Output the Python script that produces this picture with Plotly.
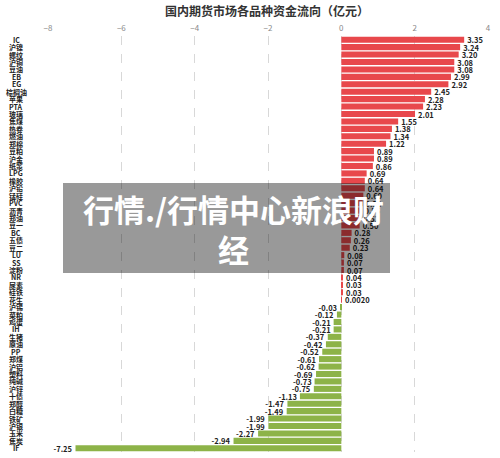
import plotly.graph_objects as go

categories = ["IC","沪镍","螺纹","沪铜","豆油","EB","EG","棕榈油","苹果","PTA",
              "玻璃","焦煤","热卷","燃油","郑棉","豆粕","沪金","纸浆","LPG","橡胶",
              "沪铅","锰硅","PVC","沥青","郑油","豆一","BC","五债","豆二","LU",
              "SS","淀粉","NR","尿素","硅铁","花生","沪锡","菜粕","鸡蛋","IH",
              "生猪","原油","PP","郑煤","沪铝","塑料","纯碱","沪锌","十债","郑醇",
              "白糖","铁矿","沪银","玉米","焦炭","IF"]
values = [3.35,3.24,3.20,3.08,3.08,2.99,2.92,2.45,2.28,2.23,
          2.01,1.55,1.38,1.34,1.22,0.89,0.89,0.86,0.69,0.64,
          0.64,0.60,0.58,0.55,0.52,0.50,0.28,0.26,0.23,0.08,
          0.07,0.07,0.04,0.03,0.03,0.0020,-0.03,-0.12,-0.21,-0.21,
          -0.37,-0.42,-0.52,-0.61,-0.62,-0.69,-0.73,-0.75,-1.13,-1.47,
          -1.49,-1.99,-1.99,-2.27,-2.94,-7.25]
x_ticks = [-8, -6, -4, -2, 0, 2, 4]
title = "国内期货市场各品种资金流向（亿元）"
watermark = "行情./行情中心新浪财<br>经"

RED = "rgb(232,72,76)"
GREEN = "rgb(141,179,72)"
FONT = "Noto Sans CJK SC"

labels = [("%.4f" % v) if abs(v) < 0.01 else ("%.2f" % v) for v in values]
colors = [RED if v >= 0 else GREEN for v in values]

fig = go.Figure(go.Bar(
    y=categories, x=values, orientation="h",
    marker=dict(color=colors, line=dict(width=0)),
    text=labels, textposition="outside", constraintext="none",
    textfont=dict(size=7.5, color="#222", family=FONT, weight="bold"),
    cliponaxis=False,
))

fig.update_layout(
    width=500, height=458,
    margin=dict(l=48, r=12, t=36, b=6),
    paper_bgcolor="white", plot_bgcolor="white",
    bargap=0.18,
    showlegend=False,
    title=dict(text=title, x=0.534, xanchor="center", y=0.975, yanchor="middle",
               font=dict(size=12, color="#333", family=FONT, weight="bold")),
    xaxis=dict(side="top", range=[-8, 4], tickvals=x_ticks,
               tickfont=dict(size=8, color="#888", family=FONT),
               showgrid=True, gridcolor="#d8d8d8", griddash="dash", gridwidth=1,
               zeroline=False, showline=False, ticks="", ticklabelstandoff=2),
    yaxis=dict(categoryorder="array", categoryarray=categories[::-1],
               showticklabels=False, showgrid=False, zeroline=False, showline=False,
               range=[-0.5, len(categories) - 0.5]),
    font=dict(family=FONT),
)

for c in categories:
    fig.add_annotation(x=-32/440, xref="paper", y=c, yref="y", text=c, showarrow=False,
                       xanchor="center", yanchor="middle", borderpad=0,
                       font=dict(size=7, color="#222", family=FONT, weight="bold"))

# semi-transparent watermark box
fig.add_shape(type="rect", xref="paper", yref="paper",
              x0=(63-48)/440, x1=(390-48)/440, y0=(458-6-273)/416, y1=(458-6-183)/416,
              fillcolor="rgba(0,0,0,0.4)", line=dict(width=0), layer="above")
fig.add_annotation(xref="paper", yref="paper", x=(233-48)/440, y=(458-6-228)/416,
                   text=watermark, showarrow=False, xanchor="center", yanchor="middle",
                   font=dict(size=31, color="white", family=FONT, weight="bold"))

fig.write_html("out.html")
